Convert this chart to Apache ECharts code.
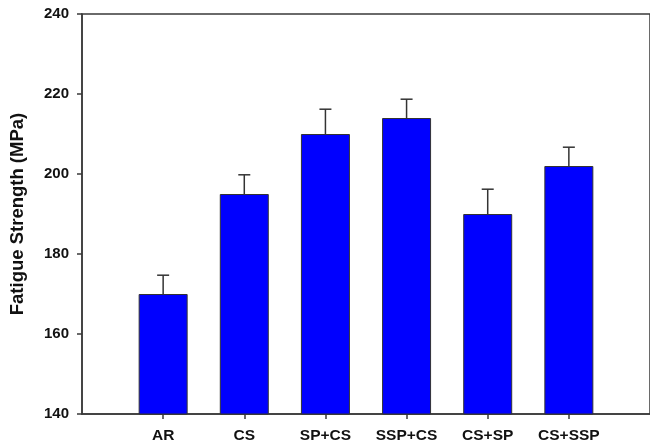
<!DOCTYPE html>
<html>
<head>
<meta charset="utf-8">
<script src="https://cdn.jsdelivr.net/npm/echarts@6/dist/echarts.min.js"></script>
<style>html,body{margin:0;padding:0;background:#fff}#c{width:650px;height:447px}</style>
</head>
<body>
<div id="c"></div>
<script>
var categories = ['AR', 'CS', 'SP+CS', 'SSP+CS', 'CS+SP', 'CS+SSP'];
var strength = [170, 195, 210, 214, 190, 202];
var errorUp = [4.7, 4.8, 6.2, 4.7, 6.2, 4.7];
var yTicks = [140, 160, 180, 200, 220, 240];

var chart = echarts.init(document.getElementById('c'), null, {renderer: 'canvas'});
var barData = strength.map(function (v, i) { return [i + 1, v]; });
var errData = strength.map(function (v, i) { return [i + 1, v, v + errorUp[i]]; });
var font = 'Liberation Sans, Arial, sans-serif';
var axisColor = '#3a3a3a';

chart.setOption({
  animation: false,
  grid: {left: 82, top: 14, width: 572, height: 400, show: true, borderColor: axisColor, borderWidth: 1.5},
  xAxis: {
    type: 'value', min: 0, max: 7, interval: 1,
    axisLine: {show: true, lineStyle: {color: axisColor, width: 1.5}},
    axisTick: {show: true, length: 5, lineStyle: {color: axisColor, width: 1.5},
      customValues: [1, 2, 3, 4, 5, 6]},
    splitLine: {show: false},
    axisLabel: {
      margin: 14, color: '#111', fontFamily: font, fontWeight: 'bold', fontSize: 15.5,
      customValues: [1, 2, 3, 4, 5, 6],
      formatter: function (v) { return categories[v - 1] || ''; }
    }
  },
  yAxis: {
    type: 'value', min: yTicks[0], max: yTicks[yTicks.length - 1], interval: 20,
    name: 'Fatigue Strength (MPa)', nameLocation: 'middle', nameGap: 55,
    nameTextStyle: {fontFamily: font, fontWeight: 'bold', fontSize: 18.5, color: '#111'},
    axisLine: {show: true, lineStyle: {color: axisColor, width: 1.5}},
    axisTick: {show: true, length: 5, lineStyle: {color: axisColor, width: 1.5}},
    splitLine: {show: false},
    axisLabel: {margin: 13, color: '#111', fontFamily: font, fontWeight: 'bold', fontSize: 15}
  },
  series: [
    {
      type: 'bar', data: barData, barWidth: 49,
      itemStyle: {color: '#0000FF', borderColor: '#333', borderWidth: 1}
    },
    {
      type: 'custom', data: errData, z: 1,
      renderItem: function (params, api) {
        var x = api.value(0);
        var base = api.coord([x, api.value(1)]);
        var top = api.coord([x, api.value(2)]);
        var style = {stroke: '#333', lineWidth: 1.5};
        return {type: 'group', children: [
          {type: 'line', shape: {x1: base[0], y1: base[1], x2: top[0], y2: top[1]}, style: style},
          {type: 'line', shape: {x1: top[0] - 6, y1: top[1], x2: top[0] + 6, y2: top[1]}, style: style}
        ]};
      }
    }
  ]
});
</script>
</body>
</html>
